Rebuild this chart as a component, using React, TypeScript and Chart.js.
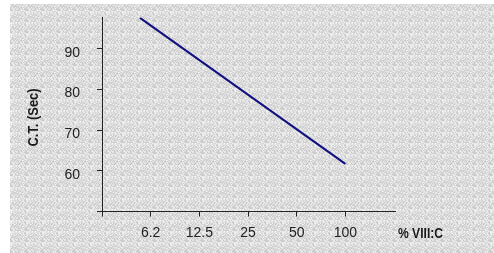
import { useEffect, useRef } from 'react';
import { Chart, registerables } from 'chart.js';

Chart.register(...registerables);

const xTickValues = [0, 1, 2, 3, 4, 5];
const xTickLabels = ['', '6.2', '12.5', '25', '50', '100'];
const yTickValues = [50, 60, 70, 80, 90];
const yTickLabels = ['', '60', '70', '80', '90'];
const lineX = [0.78, 5];
const lineY = [97.6, 61.7];
const xTitle = '% VIII:C';
const yTitle = 'C.T. (Sec)';

const REG = "'Liberation Sans', Arial, sans-serif";

function makePattern(ctx: CanvasRenderingContext2D) {
  const w = 16, h = 11;
  const c = document.createElement('canvas');
  c.width = w; c.height = h;
  const g = c.getContext('2d')!;
  const img = g.createImageData(w, h);
  for (let y = 0; y < h; y++) {
    for (let x = 0; x < w; x++) {
      let k = Math.imul(x + 7, 374761393) ^ Math.imul(y + 3, 668265263);
      k = Math.imul(k ^ (k >>> 13), 1274126177);
      k = (k ^ (k >>> 16)) >>> 0;
      let v = 198 + (k % 44);
      if (y === 0) v = Math.min(250, v + 10);
      const i = (y * w + x) * 4;
      img.data[i] = v; img.data[i + 1] = v; img.data[i + 2] = v; img.data[i + 3] = 255;
    }
  }
  g.putImageData(img, 0, 0);
  return ctx.createPattern(c, 'repeat')!;
}

export default function App() {
  const ref = useRef<HTMLCanvasElement | null>(null);
  useEffect(() => {
    const canvas = ref.current!;
    const ctx0 = canvas.getContext('2d')!;
    const pattern = makePattern(ctx0);
    const bgPlugin = {
      id: 'bgtex',
      beforeDraw(chart: any) {
        const c = chart.ctx;
        c.save();
        c.fillStyle = pattern;
        c.fillRect(10, 4, chart.width - 10, chart.height - 4);
        c.restore();
      },
      afterDraw(chart: any) {
        const c = chart.ctx;
        const a = chart.chartArea;
        c.save();
        // clipped bottom of x tick labels
        c.fillStyle = pattern;
        c.fillRect(a.left + 20, 237, 260, 14);
        c.fillStyle = '#1a1a1a';
        c.textBaseline = 'alphabetic';
        c.save();
        c.font = `bold 15.5px ${REG}`;
        c.translate(a.right + 3, 238);
        c.scale(0.78, 1);
        c.textAlign = 'left';
        c.fillText(xTitle, 0, 0);
        c.restore();
        c.save();
        c.font = `bold 15px ${REG}`;
        c.translate(38, 117.5);
        c.rotate(-Math.PI / 2);
        c.scale(0.86, 1);
        c.textAlign = 'center';
        c.fillText(yTitle, 0, 0);
        c.restore();
        c.restore();
      },
    };
    const chart = new Chart(canvas, {
      type: 'line',
      data: {
        datasets: [
          {
            data: lineX.map((x, i) => ({ x, y: lineY[i] })),
            borderColor: '#10107f',
            borderWidth: 2,
            pointRadius: 0,
            tension: 0,
            fill: false,
          },
        ],
      },
      options: {
        responsive: false,
        animation: false,
        layout: { padding: { top: 17.5, right: 99, bottom: 0, left: 0 } },
        plugins: { legend: { display: false }, tooltip: { enabled: false } },
        scales: {
          x: {
            type: 'linear',
            min: 0,
            max: 6.02,
            afterBuildTicks: (s: any) => {
              s.ticks = xTickValues.map((v) => ({ value: v }));
            },
            afterFit: (s: any) => {
              s.height = 41.5;
              s.paddingLeft = 0;
              s.paddingRight = 0;
            },
            grid: { display: true, drawOnChartArea: false, drawTicks: true, tickLength: 5, color: '#222', lineWidth: 1 },
            border: { display: true, color: '#222', width: 1 },
            ticks: {
              autoSkip: false,
              maxRotation: 0,
              padding: 8,
              color: '#222',
              font: { family: REG, size: 14 },
              callback: (v: any) => xTickLabels[xTickValues.indexOf(Number(v))] ?? '',
            },
          },
          y: {
            type: 'linear',
            min: 50,
            max: 97.7,
            afterBuildTicks: (s: any) => {
              s.ticks = yTickValues.map((v) => ({ value: v }));
            },
            afterFit: (s: any) => {
              s.width = 102;
              s.paddingTop = 0;
              s.paddingBottom = 0;
            },
            grid: { display: true, drawOnChartArea: false, drawTicks: true, tickLength: 5, color: '#222', lineWidth: 1 },
            border: { display: true, color: '#222', width: 1 },
            ticks: {
              padding: 17,
              labelOffset: 4,
              color: '#222',
              font: { family: REG, size: 14 },
              callback: (v: any) => yTickLabels[yTickValues.indexOf(Number(v))] ?? '',
            },
          },
        },
      },
      plugins: [bgPlugin],
    } as any);
    return () => chart.destroy();
  }, []);
  return (
    <div style={{ position: 'fixed', left: 0, top: 0, width: 494, height: 253, background: '#fff' }}>
      <canvas ref={ref} width={494} height={253} style={{ display: 'block', width: 494, height: 253 }} />
    </div>
  );
}
